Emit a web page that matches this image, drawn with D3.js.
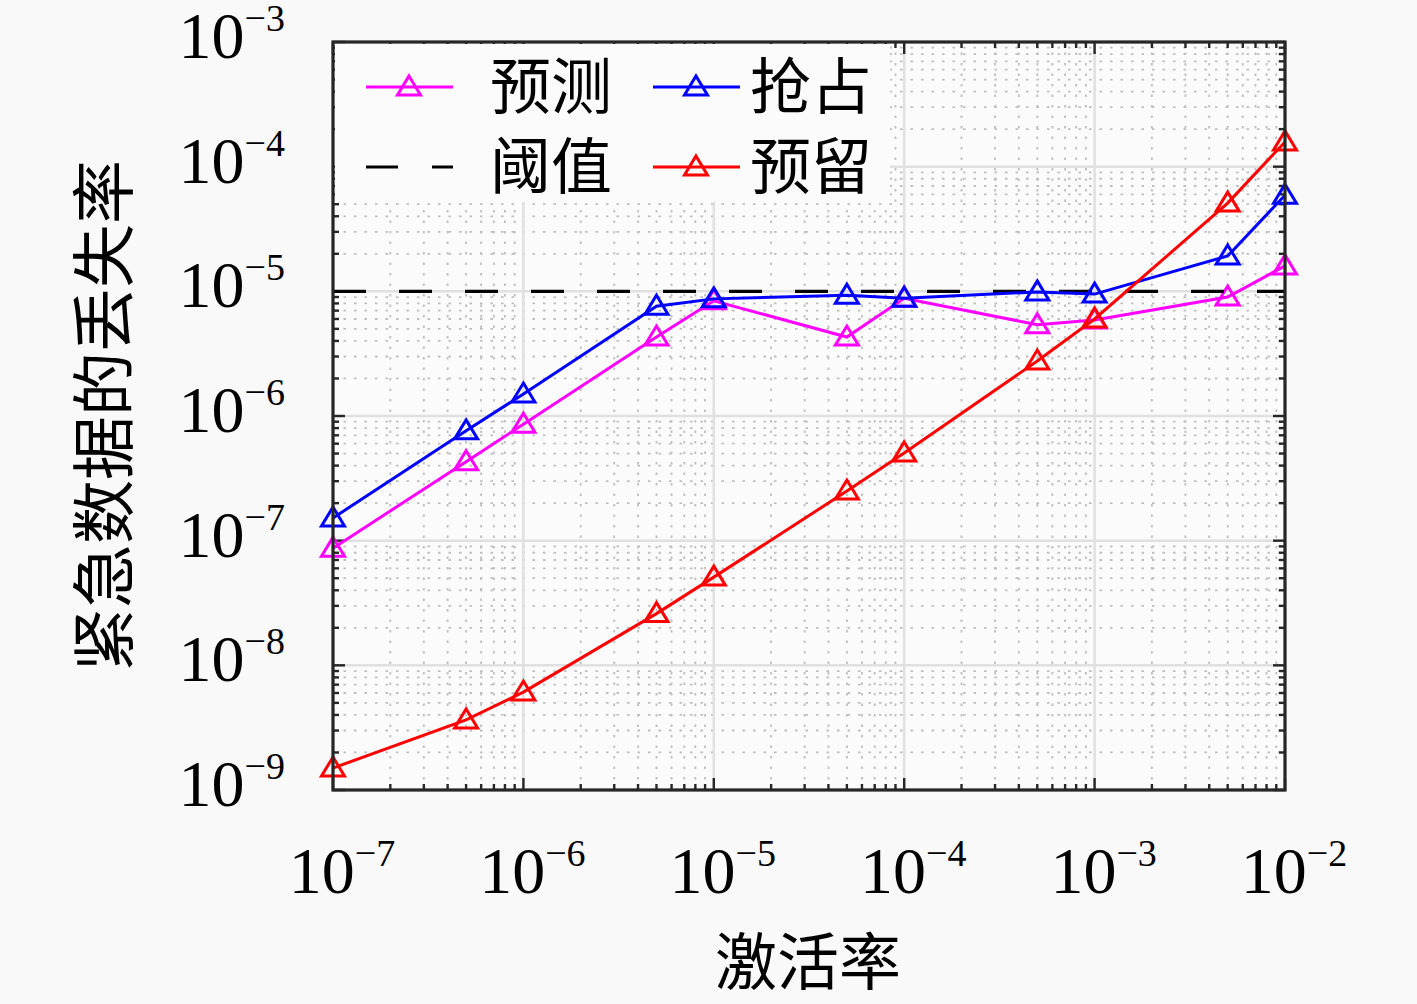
<!DOCTYPE html>
<html lang="zh">
<head>
<meta charset="UTF-8">
<title>紧急数据的丢失率</title>
<script src="https://d3js.org/d3.v7.min.js"></script>
<style>
    body { margin: 0; background: #f9f9f9; }
    .tick-label { font-family: "Liberation Serif", "DejaVu Serif", serif; fill: #000; }
    .cjk { font-family: "Noto Sans CJK SC", sans-serif; fill: #000; }
</style>
</head>
<body>
<svg id="chart" width="1417" height="1004"></svg>
<script>
// activation rate (x)
const activation = [1e-7, 5e-7, 1e-6, 5e-6, 1e-5, 5e-5, 1e-4, 5e-4, 1e-3, 5e-3, 1e-2];
// loss rate of urgent data for each scheme
const predictLoss = [8.7e-8, 4.3e-7, 8.6e-7, 4.3e-6, 8.4e-6, 4.3e-6, 8.8e-6, 5.4e-6, 5.9e-6, 9.0e-6, 1.6e-5];
const preemptLoss = [1.52e-7, 7.6e-7, 1.5e-6, 7.6e-6, 8.7e-6, 9.3e-6, 8.8e-6, 9.9e-6, 9.5e-6, 1.92e-5, 5.9e-5];
const reserveLoss = [1.5e-9, 3.65e-9, 6.1e-9, 2.6e-8, 5.1e-8, 2.5e-7, 5.05e-7, 2.76e-6, 6.0e-6, 5.1e-5, 1.58e-4];
const threshold = 1e-5;

const xTickExp = [-7, -6, -5, -4, -3, -2];
const yTickExp = [-9, -8, -7, -6, -5, -4, -3];

const series = [
    { name: "预测", color: "#ff00ff", values: predictLoss },
    { name: "抢占", color: "#0000ff", values: preemptLoss },
    { name: "预留", color: "#ff0000", values: reserveLoss }
];

const margin = { left: 333, right: 1285, top: 42, bottom: 790 };
const svg = d3.select("#chart");
const LW = 3;

const x = d3.scaleLog().domain([1e-7, 1e-2]).range([margin.left, margin.right]);
const y = d3.scaleLog().domain([1e-9, 1e-3]).range([margin.bottom, margin.top]);

// minor positions 2..9 for each decade
function minors(lo, hi) {
    const out = [];
    for (let e = lo; e < hi; e++) {
        for (let m = 2; m <= 9; m++) out.push(m * Math.pow(10, e));
    }
    return out;
}
const xMinor = minors(-7, -2);
const yMinor = minors(-9, -3);

svg.append("rect")
    .attr("x", margin.left).attr("y", margin.top)
    .attr("width", margin.right - margin.left)
    .attr("height", margin.bottom - margin.top)
    .attr("fill", "#fbfbfb");

const grid = svg.append("g");
// minor grid, dotted
xMinor.forEach(v => {
    grid.append("line")
        .attr("x1", x(v)).attr("x2", x(v))
        .attr("y1", margin.top).attr("y2", margin.bottom)
        .attr("stroke", "#bebebe").attr("stroke-width", 1.8)
        .attr("stroke-dasharray", "2.5,8");
});
yMinor.forEach(v => {
    grid.append("line")
        .attr("x1", margin.left).attr("x2", margin.right)
        .attr("y1", y(v)).attr("y2", y(v))
        .attr("stroke", "#bebebe").attr("stroke-width", 1.8)
        .attr("stroke-dasharray", "2.5,8");
});
// major grid, solid
xTickExp.forEach(e => {
    grid.append("line")
        .attr("x1", x(Math.pow(10, e))).attr("x2", x(Math.pow(10, e)))
        .attr("y1", margin.top).attr("y2", margin.bottom)
        .attr("stroke", "#e0e0e0").attr("stroke-width", 2.5);
});
yTickExp.forEach(e => {
    grid.append("line")
        .attr("x1", margin.left).attr("x2", margin.right)
        .attr("y1", y(Math.pow(10, e))).attr("y2", y(Math.pow(10, e)))
        .attr("stroke", "#e0e0e0").attr("stroke-width", 2.5);
});

// inward ticks on all four sides
const axisColor = "#262626";
const ticks = svg.append("g").attr("stroke", axisColor).attr("stroke-width", 2.4);
function xTick(v, len) {
    ticks.append("line").attr("x1", x(v)).attr("x2", x(v))
        .attr("y1", margin.bottom).attr("y2", margin.bottom - len);
    ticks.append("line").attr("x1", x(v)).attr("x2", x(v))
        .attr("y1", margin.top).attr("y2", margin.top + len);
}
function yTick(v, len) {
    ticks.append("line").attr("y1", y(v)).attr("y2", y(v))
        .attr("x1", margin.left).attr("x2", margin.left + len);
    ticks.append("line").attr("y1", y(v)).attr("y2", y(v))
        .attr("x1", margin.right).attr("x2", margin.right - len);
}
xMinor.forEach(v => xTick(v, 6));
yMinor.forEach(v => yTick(v, 6));
xTickExp.forEach(e => xTick(Math.pow(10, e), 12));
yTickExp.forEach(e => yTick(Math.pow(10, e), 12));

// data lines
const line = d3.line()
    .x((d, i) => x(activation[i]))
    .y(d => y(d));

function triangle(cx, cy) {
    return `M${cx},${cy - 11}L${cx + 11.5},${cy + 8}L${cx - 11.5},${cy + 8}Z`;
}

function drawSeries(s) {
    const g = svg.append("g");
    g.append("path")
        .datum(s.values)
        .attr("d", line)
        .attr("fill", "none")
        .attr("stroke", s.color)
        .attr("stroke-width", LW);
    g.selectAll("path.marker")
        .data(s.values)
        .join("path")
        .attr("class", "marker")
        .attr("d", (d, i) => triangle(x(activation[i]), y(d)))
        .attr("fill", "none")
        .attr("stroke", s.color)
        .attr("stroke-width", LW);
}

drawSeries(series[0]);
svg.append("line")
    .attr("x1", margin.left).attr("x2", margin.right)
    .attr("y1", y(threshold)).attr("y2", y(threshold))
    .attr("stroke", "#000").attr("stroke-width", 3.2)
    .attr("stroke-dasharray", "33,33");
drawSeries(series[1]);
drawSeries(series[2]);

// legend
const legend = svg.append("g");
legend.append("rect")
    .attr("x", margin.left + 2).attr("y", margin.top + 2)
    .attr("width", 555).attr("height", 158)
    .attr("fill", "#fbfbfb");
const legendItems = [
    { name: "预测", color: "#ff00ff", lineX: 366, textX: 490, row: 0 },
    { name: "阈值", color: "#000", lineX: 366, textX: 490, row: 1, dashed: true },
    { name: "抢占", color: "#0000ff", lineX: 653, textX: 750, row: 0 },
    { name: "预留", color: "#ff0000", lineX: 653, textX: 750, row: 1 }
];
legendItems.forEach(it => {
    const cy = 87 + it.row * 80;
    const l = legend.append("line")
        .attr("x1", it.lineX).attr("x2", it.lineX + 87)
        .attr("y1", cy).attr("y2", cy)
        .attr("stroke", it.color)
        .attr("stroke-width", it.dashed ? 3.2 : LW);
    if (it.dashed) {
        l.attr("stroke-dasharray", "32,34");
    } else {
        legend.append("path")
            .attr("d", triangle(it.lineX + 43, cy))
            .attr("fill", "none")
            .attr("stroke", it.color)
            .attr("stroke-width", LW);
    }
    legend.append("text")
        .attr("class", "cjk")
        .attr("x", it.textX)
        .attr("y", cy + 22)
        .attr("font-size", 61)
        .text(it.name);
});

// frame
svg.append("rect")
    .attr("x", margin.left).attr("y", margin.top)
    .attr("width", margin.right - margin.left)
    .attr("height", margin.bottom - margin.top)
    .attr("fill", "none")
    .attr("stroke", axisColor)
    .attr("stroke-width", 3.2);

// tick labels as 10^n
function powerLabel(g, e, px, py, anchor) {
    const t = g.append("text")
        .attr("class", "tick-label")
        .attr("x", px).attr("y", py)
        .attr("text-anchor", anchor)
        .attr("font-size", 66);
    t.append("tspan").text("10");
    t.append("tspan").attr("font-size", 38).attr("dy", -27).text("\u2212" + Math.abs(e));
}
const labels = svg.append("g");
yTickExp.forEach(e => powerLabel(labels, e, 285, y(Math.pow(10, e)) + 16, "end"));
xTickExp.forEach(e => powerLabel(labels, e, x(Math.pow(10, e)) + 9, 893, "middle"));

// axis titles
svg.append("text")
    .attr("class", "cjk")
    .attr("x", 808).attr("y", 985)
    .attr("text-anchor", "middle")
    .attr("font-size", 62)
    .text("激活率");
svg.append("text")
    .attr("class", "cjk")
    .attr("transform", "translate(127,416) rotate(-90)")
    .attr("text-anchor", "middle")
    .attr("font-size", 64)
    .text("紧急数据的丢失率");
</script>
</body>
</html>
